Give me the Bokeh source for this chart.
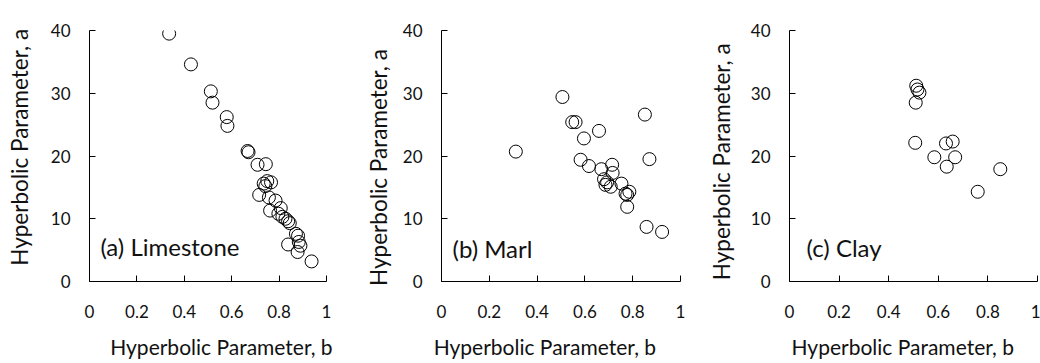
from bokeh.plotting import figure
from bokeh.layouts import row
from bokeh.models import Range1d, FixedTicker
from bokeh.embed import file_html
from bokeh.resources import INLINE
from bokeh.core.properties import value

FONT = "Lato"
INK = "#111111"
NB = "\u00a0"

# ---- data ----
limestone_b = [0.336, 0.428, 0.512, 0.519, 0.579, 0.582, 0.667, 0.671, 0.709, 0.744,
               0.735, 0.750, 0.766, 0.742, 0.716, 0.757, 0.785, 0.762, 0.807, 0.797,
               0.814, 0.827, 0.838, 0.845, 0.871, 0.880, 0.838, 0.883, 0.890, 0.878, 0.937]
limestone_a = [39.5, 34.6, 30.3, 28.5, 26.2, 24.8, 20.8, 20.6, 18.6, 18.7,
               15.6, 16.0, 15.8, 15.2, 13.8, 13.4, 12.9, 11.3, 11.7, 10.8,
               10.3, 10.0, 9.6, 9.3, 7.6, 7.3, 5.9, 6.3, 5.7, 4.7, 3.2]

marl_b = [0.311, 0.506, 0.547, 0.561, 0.659, 0.596, 0.582, 0.617, 0.669, 0.714,
          0.716, 0.680, 0.693, 0.686, 0.708, 0.753, 0.770, 0.777, 0.786, 0.777,
          0.851, 0.870, 0.858, 0.923]
marl_a = [20.7, 29.4, 25.4, 25.4, 24.0, 22.8, 19.4, 18.4, 17.9, 18.6,
          17.3, 16.3, 15.8, 15.4, 15.1, 15.6, 14.0, 13.8, 14.3, 11.9,
          26.6, 19.5, 8.7, 7.9]

clay_b = [0.511, 0.516, 0.524, 0.509, 0.507, 0.631, 0.658, 0.584, 0.668, 0.634, 0.759, 0.850]
clay_a = [31.2, 30.6, 30.1, 28.5, 22.1, 22.0, 22.3, 19.8, 19.8, 18.3, 14.3, 17.9]

x_ticks = [0, 0.2, 0.4, 0.6, 0.8, 1]
y_ticks = [0, 10, 20, 30, 40]
x_title = "Hyperbolic Parameter, b"
y_title = "Hyperbolic Parameter, a"
panel_labels = ["(a) Limestone", "(b) Marl", "(c) Clay"]


def pad(text, lead, trail):
    # non-breaking spaces nudge the centred axis title off the frame centre
    return NB * lead + text + NB * trail


def make_panel(b, a, label, width, left, right, top, bottom,
               xpad, ypad, ystandoff, label_x, label_y):
    p = figure(width=width, height=363, output_backend="svg", toolbar_location=None,
               x_range=Range1d(0, 1), y_range=Range1d(0, 40),
               min_border_left=left, min_border_right=right,
               min_border_top=top, min_border_bottom=bottom)
    p.outline_line_color = None
    p.grid.visible = False
    p.background_fill_color = "white"
    p.border_fill_color = "white"

    for ax in (p.xaxis[0], p.yaxis[0]):
        ax.axis_line_color = "black"
        ax.axis_line_width = 1
        ax.major_tick_in = 6
        ax.major_tick_out = 0
        ax.major_tick_line_color = "black"
        ax.minor_tick_line_color = None
        ax.major_label_text_font = FONT
        ax.major_label_text_font_size = "17px"
        ax.major_label_text_color = INK
        ax.axis_label_text_font = FONT
        ax.axis_label_text_font_style = "normal"
        ax.axis_label_text_color = INK

    p.xaxis.ticker = FixedTicker(ticks=x_ticks)
    p.yaxis.ticker = FixedTicker(ticks=y_ticks)
    p.xaxis.major_label_overrides = {0: "0", 1: "1"}
    p.xaxis.major_label_standoff = 23
    p.yaxis.major_label_standoff = 19

    p.xaxis.axis_label = pad(x_title, *xpad)
    p.xaxis.axis_label_text_font_size = "21px"
    p.xaxis.axis_label_standoff = 13

    p.yaxis.axis_label = pad(y_title, *ypad)
    p.yaxis.axis_label_text_font_size = "22.5px"
    p.yaxis.axis_label_standoff = ystandoff

    p.scatter(b, a, size=13, marker="circle", fill_color=None,
              line_color="black", line_width=1)

    p.text(x=[label_x], y=[label_y], text=[label], text_font=value(FONT),
           text_font_size="24px", text_baseline="middle", text_align="left",
           text_color=INK)
    return p


p1 = make_panel(limestone_b, limestone_a, panel_labels[0], 345, 89, 19, 30, 80,
                (5, 0), (3, 0), 15, 0.046, 5.5)
p2 = make_panel(marl_b, marl_a, panel_labels[1], 345, 96, 10, 29, 82,
                (0, 6), (0, 4), 8, 0.046, 5.2)
p3 = make_panel(clay_b, clay_a, panel_labels[2], 350, 99, 3, 23, 80,
                (0, 4), (0, 2), 13, 0.069, 5.4)

layout = row(p1, p2, p3, spacing=0)
open("out.html", "w").write(file_html(layout, INLINE))
